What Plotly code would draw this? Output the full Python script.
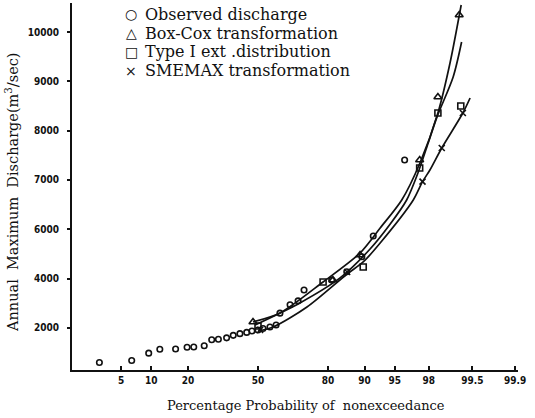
import plotly.graph_objects as go
from statistics import NormalDist

_nd = NormalDist()


def zq(p):
    return _nd.inv_cdf(p / 100.0)


# ---------------- data (probability of nonexceedance %, discharge) ----------------
obs_p = [2.83, 6.45, 9.45, 11.9, 16.1, 19.7, 22.0, 25.9, 28.9, 31.7, 35.3, 38.3, 41.4, 44.6,
         47.1, 50.0, 52.4, 55.7, 58.6, 60.4, 65.0, 68.5, 71.0, 81.2, 85.7, 89.4, 91.7, 96.1]
obs_q = [3300, 3340, 3490, 3570, 3575, 3610, 3615, 3640, 3760, 3770, 3800, 3850, 3885, 3910,
         3940, 3960, 3990, 4020, 4060, 4300, 4470, 4550, 4770, 4970, 5140, 5445, 5865, 7405]

# fitted curves
bc_line_p = [47.6, 60.4, 78.3, 89.0, 92.9, 95.8, 97.42, 98.47, 98.95, 99.27]
bc_line_q = [4122, 4304, 4933, 5520, 6027, 6595, 7345, 8358, 9372, 10547]

t1_line_p = [48.6, 69.3, 83.8, 91.1, 94.4, 96.3, 97.3, 97.95, 98.43, 99.05, 99.28]
t1_line_q = [4061, 4507, 5014, 5601, 6108, 6595, 7162, 7740, 8280, 9088, 9797]

sm_line_p = [50.0, 57.2, 72.2, 85.8, 89.7, 92.9, 96.9, 97.6, 98.06, 98.64, 99.31, 99.46]
sm_line_q = [3939, 4020, 4426, 5095, 5338, 5723, 6595, 6966, 7203, 7649, 8358, 8662]

# markers of each method
bc_pts_p = [47.6, 81.6, 89.0, 97.4, 98.47, 99.22]
bc_pts_q = [4122, 4973, 5480, 7405, 8682, 10345]

t1_pts_p = [50.0, 78.3, 89.7, 97.4, 98.47, 99.26]
t1_pts_q = [4041, 4933, 5237, 7243, 8358, 8500]

sm_pts_p = [51.0, 85.8, 97.6, 98.64, 99.31]
sm_pts_q = [3960, 5135, 6966, 7649, 8358]

# axes
x_tick_p = [5, 10, 20, 50, 80, 90, 95, 98, 99.5, 99.9]
x_tick_text = ["5", "10", "20", "50", "80", "90", "95", "98", "99.5", "99.9"]
y_tick_vals = [4000, 5000, 6000, 7000, 8000, 9000, 10000]
y_tick_text = ["2000", "4000", "6000", "7000", "8000", "9000", "10000"]

legend_symbols = ["○", "△", "□", "×"]
legend_labels = ["Observed discharge", "Box-Cox transformation",
                 "Type I ext .distribution", "SMEMAX transformation"]

# ---------------- figure ----------------
INK = "#111111"
fig = go.Figure()

for lp, lq in [(bc_line_p, bc_line_q), (t1_line_p, t1_line_q), (sm_line_p, sm_line_q)]:
    fig.add_trace(go.Scatter(x=[zq(p) for p in lp], y=lq, mode="lines",
                             line=dict(color=INK, width=1.7, shape="spline", smoothing=0.8),
                             showlegend=False, hoverinfo="skip"))

fig.add_trace(go.Scatter(x=[zq(p) for p in obs_p], y=obs_q, mode="markers",
                         marker=dict(symbol="circle-open", size=5.5, color=INK, line=dict(width=1.6)),
                         name=legend_labels[0], showlegend=False))
fig.add_trace(go.Scatter(x=[zq(p) for p in bc_pts_p], y=bc_pts_q, mode="markers",
                         marker=dict(symbol="triangle-up-open", size=7, color=INK, line=dict(width=1.6)),
                         name=legend_labels[1], showlegend=False))
fig.add_trace(go.Scatter(x=[zq(p) for p in t1_pts_p], y=t1_pts_q, mode="markers",
                         marker=dict(symbol="square-open", size=6, color=INK, line=dict(width=1.6)),
                         name=legend_labels[2], showlegend=False))
fig.add_trace(go.Scatter(x=[zq(p) for p in sm_pts_p], y=sm_pts_q, mode="markers",
                         marker=dict(symbol="x-thin-open", size=6, color=INK, line=dict(width=1.6)),
                         name=legend_labels[3], showlegend=False))

# plot-area geometry in pixels
L, R, T, B = 72, 518, 3, 370
W, H = R - L, B - T


def px(x):
    return (x - L) / W


def py(y):
    return (B - y) / H


annotations = []
rows = [14, 33, 52, 71]
for sym, lab, yy in zip(legend_symbols, legend_labels, rows):
    annotations.append(dict(x=px(131), y=py(yy), xref="paper", yref="paper", text=sym,
                            showarrow=False, xanchor="center", yanchor="middle",
                            font=dict(family="DejaVu Sans", size=14, color=INK)))
    annotations.append(dict(x=px(143), y=py(yy), xref="paper", yref="paper", text=lab,
                            showarrow=False, xanchor="left", yanchor="middle",
                            font=dict(family="DejaVu Serif", size=16, color=INK)))

annotations.append(dict(x=px(306), y=py(405), xref="paper", yref="paper",
                        text="Percentage Probability of  nonexceedance", showarrow=False,
                        xanchor="center", yanchor="middle",
                        font=dict(family="DejaVu Serif", size=13, color=INK)))
annotations.append(dict(x=px(12), y=py(192), xref="paper", yref="paper",
                        text="Annual  Maximum  Discharge(m<sup>3</sup>/sec)", showarrow=False,
                        xanchor="center", yanchor="middle", textangle=-90,
                        font=dict(family="DejaVu Serif", size=14.5, color=INK)))

tickfont = dict(family="DejaVu Sans Condensed, Liberation Sans Narrow, Arial Narrow, sans-serif",
                size=10, color=INK, weight="bold")

x0 = (L - 258) / 83.2
x1 = (R - 258) / 83.2
fig.update_layout(
    width=535, height=418,
    margin=dict(l=L, r=535 - R, t=T, b=418 - B),
    paper_bgcolor="white", plot_bgcolor="white",
    showlegend=False,
    annotations=annotations,
    xaxis=dict(range=[x0, x1], tickvals=[zq(p) for p in x_tick_p], ticktext=x_tick_text,
               ticks="inside", ticklen=4, tickwidth=1.5, tickcolor=INK,
               showline=True, linecolor=INK, linewidth=2, showgrid=False, zeroline=False,
               tickfont=tickfont, automargin=False),
    yaxis=dict(range=[3148, 10588], tickvals=y_tick_vals, ticktext=y_tick_text,
               ticks="outside", ticklen=3, tickwidth=1.5, tickcolor=INK,
               ticklabelstandoff=6,
               showline=True, linecolor=INK, linewidth=2, showgrid=False, zeroline=False,
               tickfont=tickfont, automargin=False),
)

fig.write_html("out.html", config={"displayModeBar": False},
               post_script="document.body.style.margin='0px';document.body.style.overflow='hidden';")
